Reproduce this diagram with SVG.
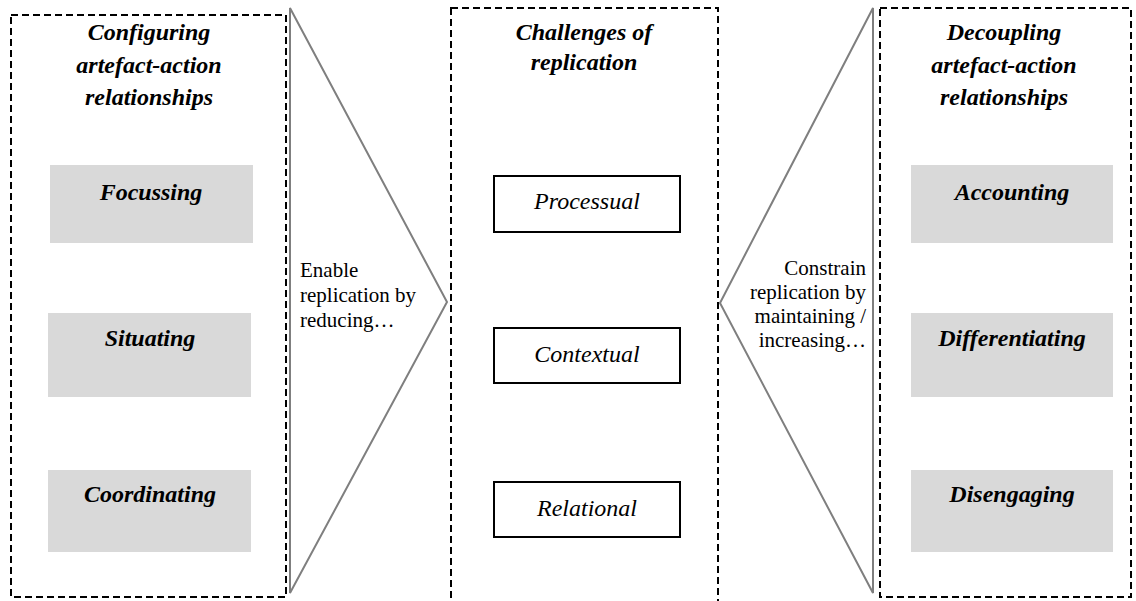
<svg xmlns="http://www.w3.org/2000/svg" width="1136" height="601" viewBox="0 0 1136 601">
<style>
.dash{fill:none;stroke:#000;stroke-width:2;stroke-dasharray:7 4}
.tri{fill:#fff;stroke:#7f7f7f;stroke-width:2;stroke-linejoin:miter}
.gbox{fill:#d9d9d9}
.wbox{fill:#fff;stroke:#000;stroke-width:2}
text{font-family:"Liberation Serif","Times New Roman","DejaVu Serif",serif;fill:#000}
.h{font-weight:bold;font-style:italic;font-size:24px;text-anchor:middle}
.c{font-style:italic;font-size:24px;text-anchor:middle}
.t{font-size:21px}
.r{text-anchor:end}
</style>
<rect x="0" y="0" width="1136" height="601" fill="#fff"/>
<g id="connectors">
<polygon id="enable-arrow" class="tri" points="290,8 447,302 290,593"/>
<polygon id="constrain-arrow" class="tri" points="873,8 720,303 873,593"/>
</g>
<g id="left-panel">
<rect class="dash" x="11" y="15" width="275" height="582"/>
<text class="h" x="149" y="40">Configuring</text>
<text class="h" x="149" y="73">artefact-action</text>
<text class="h" x="149" y="105">relationships</text>
</g>
<g id="focussing"><rect class="gbox" x="50" y="165" width="203" height="78"/><text class="h" x="151" y="200">Focussing</text></g>
<g id="situating"><rect class="gbox" x="48" y="313" width="203" height="84"/><text class="h" x="150" y="346">Situating</text></g>
<g id="coordinating"><rect class="gbox" x="48" y="470" width="203" height="82"/><text class="h" x="150" y="502">Coordinating</text></g>
<g id="middle-panel">
<rect class="dash" x="451" y="8" width="267" height="600"/>
<text class="h" x="584" y="40">Challenges of</text>
<text class="h" x="584" y="70">replication</text>
</g>
<g id="processual"><rect class="wbox" x="494" y="176" width="186" height="56"/><text class="c" x="587" y="209">Processual</text></g>
<g id="contextual"><rect class="wbox" x="494" y="328" width="186" height="55"/><text class="c" x="587" y="362">Contextual</text></g>
<g id="relational"><rect class="wbox" x="494" y="482" width="186" height="55"/><text class="c" x="587" y="516">Relational</text></g>
<g id="right-panel">
<rect class="dash" x="880" y="8" width="251" height="589"/>
<text class="h" x="1004" y="40">Decoupling</text>
<text class="h" x="1004" y="73">artefact-action</text>
<text class="h" x="1004" y="105">relationships</text>
</g>
<g id="accounting"><rect class="gbox" x="911" y="165" width="202" height="78"/><text class="h" x="1012" y="200">Accounting</text></g>
<g id="differentiating"><rect class="gbox" x="911" y="313" width="202" height="84"/><text class="h" x="1012" y="346">Differentiating</text></g>
<g id="disengaging"><rect class="gbox" x="911" y="470" width="202" height="82"/><text class="h" x="1012" y="502">Disengaging</text></g>
<g id="enable-label">
<text class="t" x="300" y="277">Enable</text>
<text class="t" x="300" y="302">replication by</text>
<text class="t" x="300" y="327">reducing…</text>
</g>
<g id="constrain-label">
<text class="t r" x="866" y="275">Constrain</text>
<text class="t r" x="866" y="299">replication by</text>
<text class="t r" x="866" y="323">maintaining /</text>
<text class="t r" x="866" y="347">increasing…</text>
</g>
</svg>
